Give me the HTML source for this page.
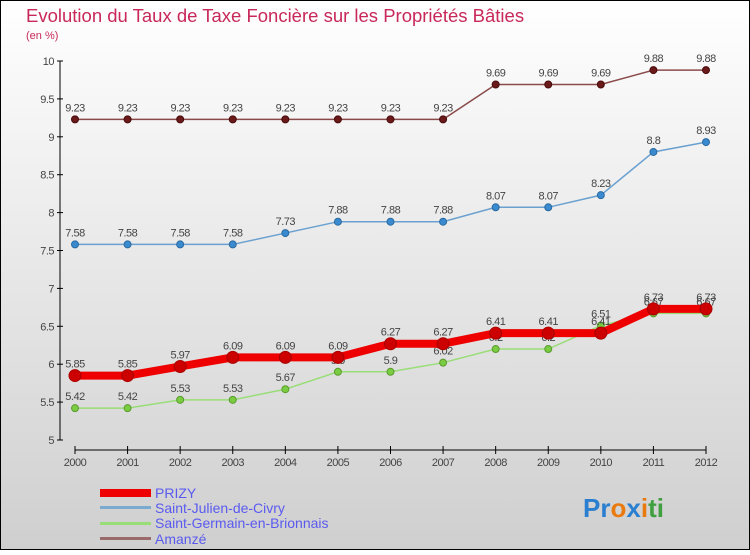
<!DOCTYPE html>
<html><head><meta charset="utf-8"><style>
body{margin:0}
#c{width:750px;height:550px;position:relative;font-family:"Liberation Sans",sans-serif}
</style></head><body>
<div id="c">
<svg id="s" width="750" height="550" xmlns="http://www.w3.org/2000/svg">
<defs><linearGradient id="bg" x1="0" y1="0" x2="0" y2="1"><stop offset="0" stop-color="#ffffff"/><stop offset="1" stop-color="#cfcfcf"/></linearGradient></defs>
<rect x="0.5" y="0.5" width="749" height="549" fill="url(#bg)" stroke="#000"/>
<text x="26" y="22" font-size="18.5" fill="#c8285a">Evolution du Taux de Taxe Foncière sur les Propriétés Bâties</text>
<text x="26" y="39" font-size="11" fill="#c8285a">(en %)</text>
<g id="axes"></g><g id="series"></g>
<g>
<rect x="100" y="489" width="51" height="8" fill="#e00"/>
<text x="155" y="498" font-size="14" fill="#5a5af0">PRIZY</text>
<rect x="100" y="506" width="51" height="3" fill="#7aaad0"/>
<text x="155" y="513" font-size="14" fill="#5a5af0">Saint-Julien-de-Civry</text>
<rect x="100" y="522" width="51" height="3" fill="#99dd77"/>
<text x="155" y="528" font-size="14" fill="#5a5af0">Saint-Germain-en-Brionnais</text>
<rect x="100" y="537" width="51" height="3" fill="#9a6a6a"/>
<text x="155" y="544" font-size="14" fill="#5a5af0">Amanzé</text>
</g>
<text x="583" y="517" font-size="26" font-weight="bold"><tspan fill="#2a7fd0">Pr</tspan><tspan fill="#e87a10">o</tspan><tspan fill="#2a7fd0">x</tspan><tspan fill="#e87a10">i</tspan><tspan fill="#40a040">ti</tspan></text>
</svg></div>
<script>
const years=[2000,2001,2002,2003,2004,2005,2006,2007,2008,2009,2010,2011,2012];
const yTicks=[5,5.5,6,6.5,7,7.5,8,8.5,9,9.5,10];
const amanze=[9.23,9.23,9.23,9.23,9.23,9.23,9.23,9.23,9.69,9.69,9.69,9.88,9.88];
const julien=[7.58,7.58,7.58,7.58,7.73,7.88,7.88,7.88,8.07,8.07,8.23,8.8,8.93];
const germain=[5.42,5.42,5.53,5.53,5.67,5.9,5.9,6.02,6.2,6.2,6.51,6.67,6.67];
const prizy=[5.85,5.85,5.97,6.09,6.09,6.09,6.27,6.27,6.41,6.41,6.41,6.73,6.73];
const NS="http://www.w3.org/2000/svg";
const x=i=>75+i*(631/12);
const y=v=>440-(v-5)*75.8;
function mk(tag,attrs,parent){const e=document.createElementNS(NS,tag);for(const k in attrs)e.setAttribute(k,attrs[k]);parent.appendChild(e);return e;}
const ax=document.getElementById('axes');
const yl=mk('line',{x1:60,y1:y(10),x2:60,y2:y(5),stroke:'#000'},ax);


yTicks.forEach(t=>{
  mk('line',{x1:57,x2:63,y1:y(t),y2:y(t),stroke:'#000'},ax);
  const tx=mk('text',{x:54,y:y(t)+4,'font-size':11,fill:'#444','text-anchor':'end','letter-spacing':-0.5},ax);
  tx.textContent=t;
  
  
});
const xl=mk('line',{x1:75,y1:450,x2:706,y2:450,stroke:'#000'},ax);


years.forEach((yr,i)=>{
  mk('line',{x1:x(i),x2:x(i),y1:446,y2:454,stroke:'#000'},ax);
  const tx=mk('text',{x:x(i),y:466,'font-size':11,fill:'#444','text-anchor':'middle','letter-spacing':-0.5},ax);
  tx.textContent=yr;
  
  
});
const sg=document.getElementById('series');
function series(name,vals,color,w,r,dot,stroke){
  const g=mk('g',{},sg);
  
  
  const pl=mk('polyline',{points:vals.map((v,i)=>x(i)+','+y(v)).join(' '),fill:'none',stroke:color,'stroke-width':w},g);
  
  
  vals.forEach((v,i)=>{
    const c=mk('circle',{cx:x(i),cy:y(v),r:r,fill:dot,stroke:stroke,'stroke-width':1},g);
    
    
    const t=mk('text',{x:x(i),y:y(v)-8,'font-size':11,fill:'#444','text-anchor':'middle','letter-spacing':-0.5},g);
    t.textContent=v;
    
    
  });
}
series('amanze',amanze,'#8a4a4a',1.5,3.5,'#6a1a1a','#4a0a0a');
series('saint-julien',julien,'#6aa0d0',1.5,3.5,'#3a8ad0','#2a6aa0');
series('saint-germain',germain,'#99dd77',1.5,3.5,'#7acc40','#5a9a30');
series('prizy',prizy,'#ee0000',8,6,'#cc0000','#aa0000');
</script>
</body></html>
